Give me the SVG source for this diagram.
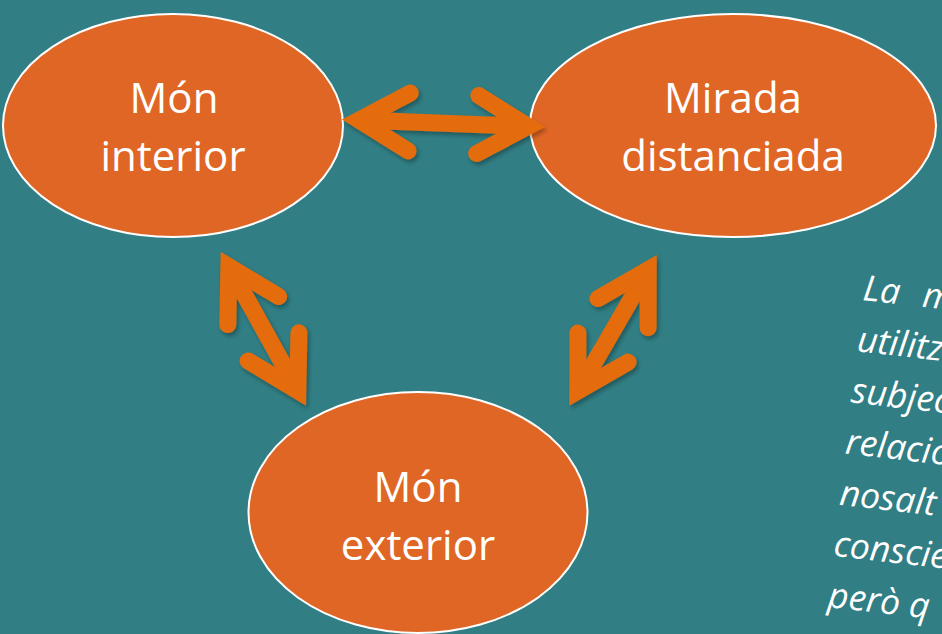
<svg xmlns="http://www.w3.org/2000/svg" width="942" height="634" viewBox="0 0 942 634">
  <defs>
    <filter id="shadow" x="-20%" y="-20%" width="140%" height="140%">
      <feDropShadow dx="2" dy="3" stdDeviation="2" flood-color="#000" flood-opacity="0.3"/>
    </filter>
  </defs>
  <style>
    .node ellipse { fill: #E06626; stroke: #FFFFFF; stroke-width: 2; }
    .label { font-family: "Open Sans", "Noto Sans", sans-serif; font-size: 42px; fill: #FFFFFF; text-anchor: middle; }
    .shaft { fill: none; stroke: #E46C0A; stroke-width: 17; stroke-linecap: butt; }
    .head { fill: none; stroke: #E46C0A; stroke-width: 17; stroke-linecap: round; stroke-linejoin: miter; stroke-miterlimit: 10; }
    .side { font-family: "Open Sans", "Noto Sans", sans-serif; font-style: italic; font-size: 35.5px; fill: #FFFFFF; }
  </style>
  <rect x="0" y="0" width="942" height="634" fill="#317E84"/>

  <g id="node-mon-interior" class="node">
    <ellipse cx="173" cy="125.5" rx="170" ry="111.5"/>
    <text class="label" x="174" y="113">Món</text>
    <text class="label" x="173" y="170.5">interior</text>
  </g>

  <g id="node-mirada-distanciada" class="node">
    <ellipse cx="733" cy="125.5" rx="203" ry="111.5"/>
    <text class="label" x="733" y="113">Mirada</text>
    <text class="label" x="733" y="170.5">distanciada</text>
  </g>

  <g id="node-mon-exterior" class="node">
    <ellipse cx="418" cy="512.5" rx="169.5" ry="120.5"/>
    <text class="label" x="418" y="501.5">Món</text>
    <text class="label" x="418" y="560">exterior</text>
  </g>

  <g id="connectors" filter="url(#shadow)">
    <g id="arrow-interior-mirada">
      <path class="shaft" d="M359,120.1 L528,126.4"/>
      <path class="head" d="M410.3,93 L359,120.1 L408.1,150.9"/>
      <path class="head" d="M478.9,95.6 L528,126.4 L476.7,153.5"/>
    </g>
    <g id="arrow-interior-exterior">
      <path class="shaft" d="M228.9,266.6 L297.8,390.8"/>
      <path class="head" d="M227.8,324.6 L228.9,266.6 L278.6,296.5"/>
      <path class="head" d="M298.9,332.8 L297.8,390.8 L248.1,360.9"/>
    </g>
    <g id="arrow-mirada-exterior">
      <path class="shaft" d="M648.2,269.7 L577.8,391"/>
      <path class="head" d="M648.1,327.7 L648.2,269.7 L597.9,298.6"/>
      <path class="head" d="M577.9,333 L577.8,391 L628.1,362.1"/>
    </g>
  </g>

  <g id="side-text" transform="rotate(6.5 862 300)">
    <text class="side" x="862" y="300">La<tspan x="922">m</tspan></text>
    <text class="side" x="862" y="351.5">utilitz</text>
    <text class="side" x="862" y="403">subjec</text>
    <text class="side" x="862" y="454.5">relacio</text>
    <text class="side" x="862" y="506">nosalt</text>
    <text class="side" x="862" y="557.5">conscie</text>
    <text class="side" x="862" y="609">però q</text>
  </g>
</svg>
